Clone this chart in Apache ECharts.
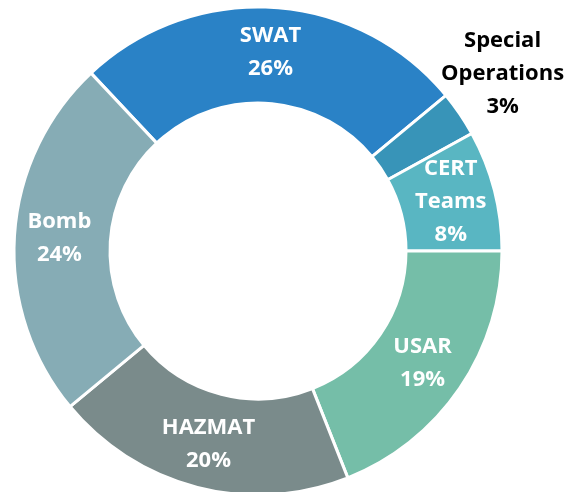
<!DOCTYPE html>
<html>
<head>
<meta charset="utf-8">
<script src="https://cdn.jsdelivr.net/npm/echarts@6/dist/echarts.min.js"></script>
<style>
  html, body { margin: 0; padding: 0; background: #fff; }
  #chart-container { width: 575px; height: 492px; }
</style>
</head>
<body>
<div id="chart-container"></div>
<script>
// teams, clockwise from upper-left
const teams = ["SWAT", "Special\nOperations", "CERT\nTeams", "USAR", "HAZMAT", "Bomb"];
const shares = [26, 3, 8, 19, 20, 24];
const colors = ["#2a82c6", "#3894b8", "#59b6c2", "#75bea8", "#7a8b8b", "#86acb5"];

const dom = document.getElementById("chart-container");
const myChart = echarts.init(dom, null, { renderer: "canvas" });

const data = teams.map((name, i) => {
  const item = { name: name, value: shares[i], itemStyle: { color: colors[i] } };
  if (i === 1) {
    // small slice: label sits outside, dark text
    item.label = { color: "#000", offset: [80, -65] };
  }
  return item;
});

const option = {
  animation: false,
  series: [
    {
      type: "pie",
      center: [258, 251],
      radius: [148, 244],
      startAngle: 133.2,
      clockwise: true,
      data: data,
      itemStyle: { borderColor: "#fff", borderWidth: 3 },
      label: {
        position: "inside",
        formatter: (p) => p.name + "\n" + p.value + "%",
        color: "#fff",
        fontFamily: "Open Sans",
        fontWeight: "bold",
        fontSize: 22,
        lineHeight: 33,
        align: "center",
      },
      labelLine: { show: false },
      emphasis: { disabled: true },
    },
  ],
};

myChart.setOption(option);
window.addEventListener("resize", myChart.resize);
</script>
</body>
</html>
